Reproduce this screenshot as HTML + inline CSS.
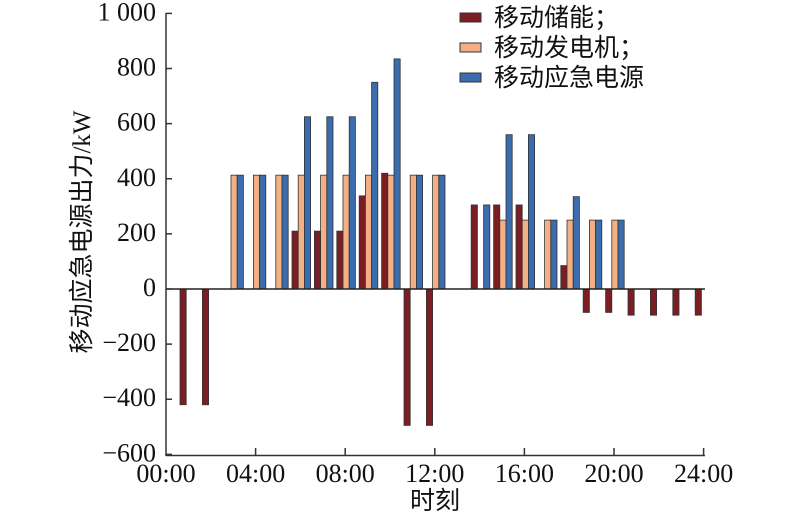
<!DOCTYPE html>
<html><head><meta charset="utf-8"><style>body{margin:0;background:#fff}
.t{font-family:"Liberation Serif","Noto Serif CJK SC",serif;font-size:26px;fill:#111}
.c{font-family:"Liberation Serif","Noto Sans CJK SC",sans-serif;font-size:25px;fill:#111}
</style></head><body>
<svg width="800" height="518" xmlns="http://www.w3.org/2000/svg">
<g id="bars" stroke="#333" stroke-width="0.8"></g>
<line x1="166" y1="289" x2="705" y2="289" stroke="#222" stroke-width="1.5"/>
<line x1="166" y1="13" x2="166" y2="456" stroke="#333" stroke-width="1.5"/>
<line x1="166" y1="455.5" x2="705" y2="455.5" stroke="#333" stroke-width="1.5"/>
<g id="ax" stroke="#333" stroke-width="1.5"></g>
<g id="lab"></g>
<rect x="460" y="13" width="21" height="9" fill="#7a1e24" stroke="#333"/><text class="c" x="494" y="26">移动储能；</text>
<rect x="460" y="43" width="21" height="9" fill="#f4b085" stroke="#333"/><text class="c" x="494" y="56">移动发电机；</text>
<rect x="460" y="73" width="21" height="9" fill="#3a6cae" stroke="#333"/><text class="c" x="494" y="86">移动应急电源</text>
<text class="c" x="435" y="509" text-anchor="middle">时刻</text>
<text class="c" transform="translate(90,232) rotate(-90)" text-anchor="middle">移动应急电源出力/kW</text>
<script>
var ns="http://www.w3.org/2000/svg";
function el(p,t,a,tx){var e=document.createElementNS(ns,t);for(var k in a)e.setAttribute(k,a[k]);if(tx)e.textContent=tx;p.appendChild(e);}
var Y=function(v){return 289-v*0.2756;};
var m=[-420,-420,0,0,0,210,210,210,338,420,-495,-495,0,305,305,305,0,85,-85,-85,-95,-95,-95,-95];
var o=[0,0,413,413,413,413,413,413,413,413,413,413,0,0,250,250,250,250,250,250,0,0,0,0];
var b=[0,0,413,413,413,625,625,625,750,835,413,413,0,305,560,560,250,335,250,250,0,0,0,0];
var g=document.getElementById("bars");
function bar(x,v,c){if(!v)return;var y0=Math.min(Y(0),Y(v)),h=Math.abs(Y(v)-Y(0));el(g,"rect",{x:x,y:y0,width:6.2,height:h,fill:c});}
for(var i=0;i<24;i++){var x0=166+22.4*i;bar(x0+14,m[i],"#7a1e24");bar(x0+20.2,o[i],"#f4b085");bar(x0+26.4,b[i],"#3a6cae");}
var ax=document.getElementById("ax"),lab=document.getElementById("lab");
for(var v=-600;v<=1000;v+=200){var y=Y(v);el(ax,"line",{x1:166,y1:y,x2:172,y2:y});
el(lab,"text",{"class":"t",x:156,y:y+7,"text-anchor":"end"},(v<0?"\u2212"+(-v):v==1000?"1 000":""+v));}
var tl=["00:00","04:00","08:00","12:00","16:00","20:00","24:00"];
for(var k=0;k<7;k++){var x=166+89.6*k;if(k>0)el(ax,"line",{x1:x,y1:455.5,x2:x,y2:448});
el(lab,"text",{"class":"t",x:x,y:482,"text-anchor":"middle"},tl[k]);}
</script>
</svg>
</body></html>
